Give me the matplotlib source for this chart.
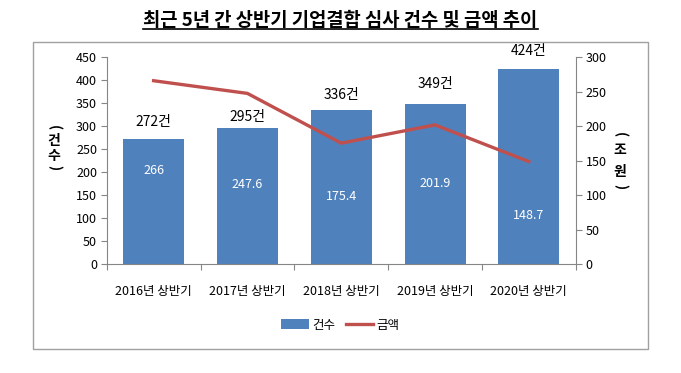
import matplotlib
matplotlib.use("Agg")
import matplotlib.pyplot as plt
import numpy as np
from matplotlib.patches import Rectangle, Patch
from matplotlib.lines import Line2D

plt.rcParams['font.family'] = ['Noto Sans CJK KR', 'DejaVu Sans']

# 데이터
categories = ["2016년 상반기", "2017년 상반기", "2018년 상반기", "2019년 상반기", "2020년 상반기"]
counts = [272, 295, 336, 349, 424]          # 건수
amounts = [266, 247.6, 175.4, 201.9, 148.7]  # 금액 (조원)

# 라벨 위치 (좌측 축 기준, 그림에서 읽음)
count_label_y = [309, 321, 367, 392, 464]
amount_label_y = [204, 173, 146, 175, 105]

BAR = '#4F81BD'
LINE = '#C0504D'
GREY = '#868686'

fig = plt.figure(figsize=(6.81, 3.73), dpi=100)
fig.patches.append(Rectangle((33 / 681, 1 - 349 / 373), 615 / 681, 307 / 373,
                             transform=fig.transFigure, fill=False,
                             edgecolor='#A0A0A0', linewidth=1.0))

ax = fig.add_axes([0.1567, 0.2922, 0.6887, 0.5542])
x = np.arange(len(categories))
ax.bar(x, counts, width=0.65, color=BAR, zorder=1)
ax.set_xlim(-0.5, len(categories) - 0.5)
ax.set_ylim(0, 450)
ax.set_yticks(range(0, 451, 50))
ax.set_xticks(np.arange(-0.5, len(categories), 1.0))
ax.set_xticklabels([])
ax.set_xticks(x, minor=True)
ax.set_xticklabels(categories, minor=True, fontsize=9)
ax.tick_params(axis='x', which='minor', length=0, pad=15)
ax.tick_params(axis='x', which='major', length=4, color=GREY, direction='out')
ax.tick_params(axis='y', length=4, color=GREY, labelsize=9, pad=3)
for s in ['top', 'right']:
    ax.spines[s].set_visible(False)
for s in ['left', 'bottom']:
    ax.spines[s].set_color(GREY)

for xi, c, ly in zip(x, counts, count_label_y):
    ax.text(xi, ly, f"{c}건", ha='center', va='center', fontsize=10, color='black')
for xi, a, ly in zip(x, amounts, amount_label_y):
    ax.text(xi, ly, f"{a:g}", ha='center', va='center', fontsize=9, color='white', zorder=4)

ax2 = ax.twinx()
ax2.plot(x, amounts, color=LINE, linewidth=2.4, zorder=3)
ax2.set_ylim(0, 300)
ax2.set_yticks(range(0, 301, 50))
ax2.tick_params(axis='y', length=4, color=GREY, labelsize=9, pad=3)
for s in ['top', 'left', 'bottom']:
    ax2.spines[s].set_visible(False)
ax2.spines['right'].set_color(GREY)


# 축 제목 (세로쓰기, 괄호는 회전)
def vertical_label(xpx, chars, ypx):
    for ch, yp in zip(chars, ypx):
        rot = -90 if ch in "()" else 0
        fig.text(xpx / 681, 1 - yp / 373, ch, ha='center', va='center',
                 fontsize=10, fontweight='bold', rotation=rot, rotation_mode='anchor')


vertical_label(54, "(건수)", [128, 141, 156, 168])
vertical_label(620, "(조원)", [135, 150, 172, 187])

# 제목 + 밑줄
title = fig.text(0.5, 1 - 21 / 373, "최근 5년 간 상반기 기업결합 심사 건수 및 금액 추이",
                 ha='center', va='center', fontsize=13.5, fontweight='bold')
fig.canvas.draw()
bb = title.get_window_extent().transformed(fig.transFigure.inverted())
fig.add_artist(Line2D([bb.x0, bb.x1], [1 - 29 / 373, 1 - 29 / 373],
                      transform=fig.transFigure, color='black', linewidth=1.2))

handles = [Patch(facecolor=BAR, edgecolor='none'),
           Line2D([0], [0], color=LINE, linewidth=2.4)]
fig.legend(handles, ["건수", "금액"], loc='center', bbox_to_anchor=(0.5, 1 - 325 / 373),
           ncol=2, frameon=False, fontsize=9, handlelength=2.2, handleheight=0.8,
           columnspacing=0.8, handletextpad=0.3)

fig.savefig("out.png", dpi=100)
